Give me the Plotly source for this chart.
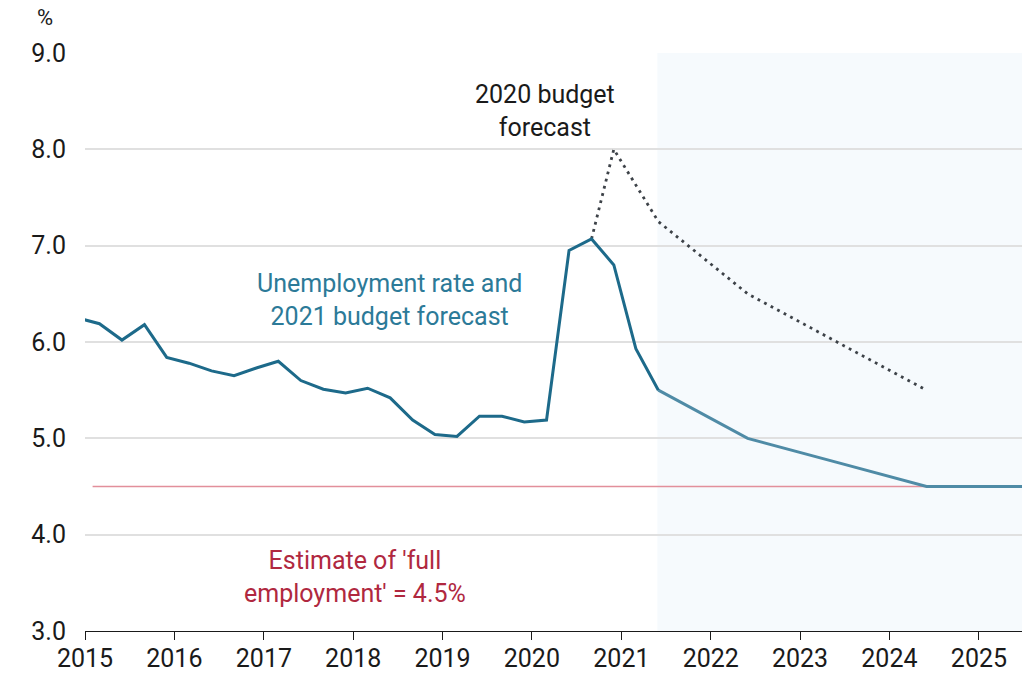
import plotly.graph_objects as go

# Quarterly unemployment rate (%), quarter-end months
hist_dates = [
    "2014-12-01", "2015-03-01", "2015-06-01", "2015-09-01", "2015-12-01",
    "2016-03-01", "2016-06-01", "2016-09-01", "2016-12-01",
    "2017-03-01", "2017-06-01", "2017-09-01", "2017-12-01",
    "2018-03-01", "2018-06-01", "2018-09-01", "2018-12-01",
    "2019-03-01", "2019-06-01", "2019-09-01", "2019-12-01",
    "2020-03-01", "2020-06-01", "2020-09-01", "2020-12-01",
    "2021-03-01", "2021-06-01",
]
hist_rate = [
    6.25, 6.19, 6.02, 6.18, 5.84,
    5.78, 5.70, 5.65, 5.73,
    5.80, 5.60, 5.51, 5.47,
    5.52, 5.42, 5.19, 5.04,
    5.02, 5.23, 5.23, 5.17,
    5.19, 6.95, 7.07, 6.80,
    5.93, 5.50,
]

# 2021 budget forecast
fc21_dates = ["2021-06-01", "2022-06-01", "2023-06-01", "2024-06-01", "2025-06-30"]
fc21_rate = [5.50, 5.00, 4.75, 4.50, 4.50]

# 2020 budget forecast
fc20_dates = ["2020-09-01", "2020-12-01", "2021-06-01", "2022-06-01", "2023-06-01", "2024-06-01"]
fc20_rate = [7.07, 8.00, 7.25, 6.50, 6.00, 5.50]

# Full-employment benchmark
full_emp_dates = ["2015-02-01", "2025-06-30"]
full_emp_rate = [4.5, 4.5]

forecast_start = "2021-05-28"
x_range = ["2015-01-01", "2025-06-26"]
y_range = [3.0, 9.0]
year_ticks = [f"{y}-01-01" for y in range(2015, 2026)]
year_labels = [str(y) for y in range(2015, 2026)]

FONT = "Roboto"
HIST_COLOR = "#1d6a8a"
FC_COLOR = "#4f8ba6"
RED = "#b0283f"

fig = go.Figure()

fig.add_shape(
    type="rect", xref="x", yref="paper",
    x0=forecast_start, x1=x_range[1], y0=0, y1=1,
    fillcolor="#f6fafd", line_width=0, layer="below",
)

fig.add_trace(go.Scatter(
    x=full_emp_dates, y=full_emp_rate, mode="lines",
    line=dict(color="#e28f9b", width=1.3), hoverinfo="skip",
))
fig.add_trace(go.Scatter(
    x=fc20_dates, y=fc20_rate, mode="lines",
    line=dict(color="#3d4248", width=2.8, dash="2.8px,4.6px"), hoverinfo="skip",
))
fig.add_trace(go.Scatter(
    x=fc21_dates, y=fc21_rate, mode="lines",
    line=dict(color=FC_COLOR, width=3), hoverinfo="skip",
))
fig.add_trace(go.Scatter(
    x=hist_dates, y=hist_rate, mode="lines",
    line=dict(color=HIST_COLOR, width=3), hoverinfo="skip",
))

fig.add_annotation(
    x="2020-02-23", y=8.40, xref="x", yref="y",
    text="2020 budget<br>forecast", showarrow=False,
    font=dict(family=FONT, size=25, color="#1a1a1a"),
)
fig.add_annotation(
    x="2018-05-30", y=6.44, xref="x", yref="y",
    text="Unemployment rate and<br>2021 budget forecast", showarrow=False,
    font=dict(family=FONT, size=25, color="#2c7a98"),
)
fig.add_annotation(
    x="2018-01-08", y=3.56, xref="x", yref="y",
    text="Estimate of 'full<br>employment' = 4.5%", showarrow=False,
    font=dict(family=FONT, size=25, color=RED),
)
fig.add_annotation(
    x=-0.043, y=1.062, xref="paper", yref="paper",
    xanchor="center", yanchor="middle",
    text="%", showarrow=False,
    font=dict(family=FONT, size=22, color="#1a1a1a"),
)

fig.update_layout(
    width=1028, height=674,
    margin=dict(l=85, r=6, t=53, b=43, autoexpand=False),
    paper_bgcolor="white", plot_bgcolor="white",
    showlegend=False,
    font=dict(family=FONT, size=25, color="#1a1a1a"),
)
fig.update_xaxes(
    type="date", range=x_range, automargin=False,
    tickmode="array", tickvals=year_ticks, ticktext=year_labels,
    ticks="outside", ticklen=8, tickwidth=1.2, tickcolor="#1a1a1a",
    showline=True, linecolor="#1a1a1a", linewidth=1.2,
    showgrid=False, zeroline=False,
    ticklabelstandoff=-3,
    tickfont=dict(family=FONT, size=25, color="#1a1a1a"),
)
fig.update_yaxes(
    range=y_range, dtick=1, tick0=3, tickformat=".1f", automargin=False,
    showgrid=True, gridcolor="#e0e0e0", gridwidth=1.5,
    zeroline=False, showline=False, ticks="",
    ticklabelstandoff=18,
    tickfont=dict(family=FONT, size=25, color="#1a1a1a"),
)

fig.write_html("out.html")
